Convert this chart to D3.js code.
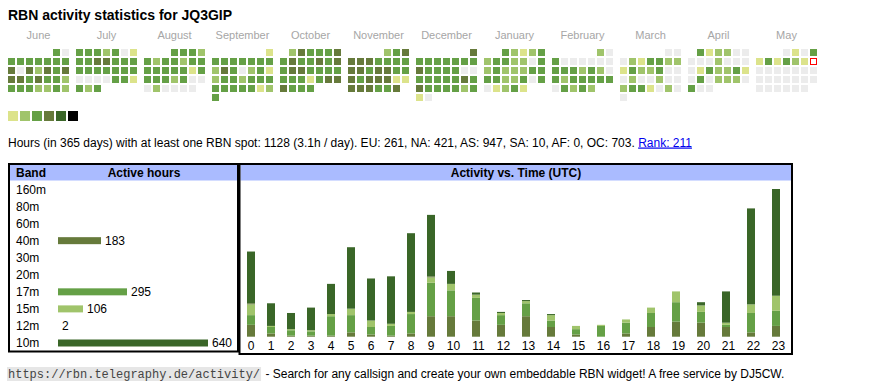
<!DOCTYPE html>
<html><head><meta charset="utf-8">
<script src="https://cdn.jsdelivr.net/npm/d3@7"></script>
<style>
body{margin:0;background:#fff}
svg{display:block}
</style>
</head><body>
<svg id="chart" width="870" height="390" font-family="'Liberation Sans',Arial,Helvetica,sans-serif"></svg>
<script>
// ---------------- DATA ----------------
const titleText = "RBN activity statistics for JQ3GIP";
const monthNames = ["June","July","August","September","October","November","December","January","February","March","April","May"];
const monthFirstDays = ["2024-06-01","2024-07-01","2024-08-01","2024-09-01","2024-10-01","2024-11-01","2024-12-01","2025-01-01","2025-02-01","2025-03-01","2025-04-01","2025-05-01"];
// activity level per day (0 = none ... 5 = highest), one string per month
const dayLevels = [
  "303333333404243444343323332232",
  "3332301334433333333330000331323",
  "3332323323333333133332300020000",
  "133333332430231233233333333123",
  "2433343433434344333333313444333",
  "234444333344344334344411444334",
  "4333333343333003333343433332310",
  "3212323322032322233332230301231",
  "2030000003332320323333303232",
  "0002133221322300020020023310200",
  "312200000200001322310302220300",
  "0103131321000000000000000000000"
];
const todayDate = "2025-05-11";
const levelColors = ["#ececec","#dce38b","#a0c46b","#65a046","#667a3b","#3a6628","#000000"];
const legendLevels = [1,2,3,4,5,6];

const summaryText = "Hours (in 365 days) with at least one RBN spot: 1128 (3.1h / day). EU: 261, NA: 421, AS: 947, SA: 10, AF: 0, OC: 703. ";
const rankText = "Rank: 211";

const bands = ["160m","80m","60m","40m","30m","20m","17m","15m","12m","10m"];
const bandHours = [0,0,0,183,0,0,295,106,2,640];
const bandColors = {"160m":"#3a6628","80m":"#3a6628","60m":"#3a6628","40m":"#667a3b","30m":"#3a6628","20m":"#3a6628","17m":"#65a046","15m":"#a0c46b","12m":"#667a3b","10m":"#3a6628"};

const hourLabels = ["0","1","2","3","4","5","6","7","8","9","10","11","12","13","14","15","16","17","18","19","20","21","22","23"];
const hours40m = [11,3,1,1,1,4,2,1,3,19,19,15,11,19,9,2,0,3,9,14,13,9,4,10];
const hours17m = [9,6,5,4,18,16,7,9,18,31,24,21,9,12,6,5,10,10,13,18,10,2,18,14];
const hours15m = [10,1,1,1,2,6,6,2,2,5,6,3,2,2,5,3,1,3,5,10,6,2,8,14];
const hours12m = [1,0,0,0,0,0,0,0,0,1,0,0,0,0,0,0,0,0,0,0,0,0,0,0];
const hours10m = [48,21,15,21,28,57,39,44,73,57,12,2,1,1,1,0,0,0,0,0,3,29,89,99];
const stackBands = ["40m","17m","15m","12m","10m"];

const footerUrl = "https://rbn.telegraphy.de/activity/";
const footerText = " - Search for any callsign and create your own embeddable RBN widget! A free service by DJ5CW.";

// ---------------- DRAW ----------------
const svg = d3.select("#chart");
svg.append("rect").attr("width",870).attr("height",390).attr("fill","#fff");

svg.append("text").attr("x",8).attr("y",20).attr("font-size",14).attr("font-weight","bold").text(titleText);

// calendar
const cell = 7, pitch = 9;
const monthX = d3.scaleBand().domain(monthNames).range([8, 8 + 12*68]);
const parse = d3.utcParse("%Y-%m-%d");
const today = parse(todayDate);
const cal = svg.append("g");
monthNames.forEach((m, mi) => {
  const first = parse(monthFirstDays[mi]);
  const offset = (first.getUTCDay() + 6) % 7;
  const x0 = monthX(m);
  cal.append("text").attr("x", x0 + (7*pitch - 2)/2).attr("y",38.5).attr("text-anchor","middle")
    .attr("font-size",11).attr("fill","#a6a6a6").text(m);
  const levels = dayLevels[mi].split("").map(Number);
  levels.forEach((lv, d) => {
    const date = d3.utcDay.offset(first, d);
    const idx = d + offset;
    const col = idx % 7, row = Math.floor(idx / 7);
    const isToday = +date === +today;
    cal.append("rect")
      .attr("x", x0 + col*pitch + (isToday ? 0.5 : 0))
      .attr("y", 49 + row*pitch + (isToday ? 0.5 : 0))
      .attr("width", isToday ? cell-1 : cell).attr("height", isToday ? cell-1 : cell)
      .attr("fill", isToday ? "#fff" : levelColors[lv])
      .attr("stroke", isToday ? "#ff0000" : "none").attr("stroke-width", 1);
  });
});

// legend
const legX = d3.scalePoint().domain(legendLevels).range([8, 68]);
svg.append("g").selectAll("rect").data(legendLevels).join("rect")
  .attr("x", d => legX(d)).attr("y", 111).attr("width",10).attr("height",10)
  .attr("fill", d => levelColors[d]);

// summary line
const sum = svg.append("text").attr("x",8).attr("y",146.5).attr("font-size",12);
sum.append("tspan").text(summaryText);
sum.append("tspan").attr("fill","#0000ee").attr("text-decoration","underline").text(rankText);

// boxes
const headerFill = "#aabbff";
svg.append("rect").attr("x",10).attr("y",165).attr("width",227).attr("height",15.5).attr("fill",headerFill);
svg.append("rect").attr("x",240.5).attr("y",165).attr("width",550.5).attr("height",15.5).attr("fill",headerFill);
svg.append("rect").attr("x",9).attr("y",164).attr("width",229).attr("height",187.5).attr("fill","none").attr("stroke","#000").attr("stroke-width",2);
svg.append("rect").attr("x",239.5).attr("y",164).attr("width",552.5).attr("height",190).attr("fill","none").attr("stroke","#000").attr("stroke-width",2);

svg.append("text").attr("x",16).attr("y",176.7).attr("font-size",12).attr("font-weight","bold").text("Band");
svg.append("text").attr("x",144).attr("y",176.7).attr("font-size",12).attr("font-weight","bold").attr("text-anchor","middle").text("Active hours");
svg.append("text").attr("x",516).attr("y",176.7).attr("font-size",12).attr("font-weight","bold").attr("text-anchor","middle").text("Activity vs. Time (UTC)");

// band table
const rowY = d3.scalePoint().domain(bands).range([189.5, 343]);
const barW = d3.scaleLinear().domain([0, d3.max(bandHours)]).range([0, 150]);
const bt = svg.append("g");
bands.forEach((b, i) => {
  const y = rowY(b);
  bt.append("text").attr("x",16).attr("y",y+4.3).attr("font-size",12).text(b);
  if (bandHours[i] > 0) {
    const w = Math.round(barW(bandHours[i]));
    bt.append("rect").attr("x",58).attr("y",y-3.5).attr("width",w).attr("height",7).attr("fill",bandColors[b]);
    bt.append("text").attr("x",58 + w + 4).attr("y",y+4.3).attr("font-size",12).text(bandHours[i]);
  }
});

// activity vs time
const series = {"40m":hours40m,"17m":hours17m,"15m":hours15m,"12m":hours12m,"10m":hours10m};
const table = hourLabels.map((h, i) => {
  const o = {hour: h};
  stackBands.forEach(b => o[b] = series[b][i]);
  return o;
});
const stacked = d3.stack().keys(stackBands)(table);
const colW = hourLabels.map(h => h.length === 1 ? 20 : 25);
const colStart = hourLabels.map((h, i) => 241 + d3.sum(colW.slice(0, i)));
const xCol = d3.scaleOrdinal().domain(hourLabels).range(colStart);
const maxTotal = d3.max(table, d => d3.sum(stackBands, b => d[b]));
const y = d3.scaleLinear().domain([0, maxTotal]).range([336.7, 189]);

const ag = svg.append("g");
ag.selectAll("g").data(stacked).join("g").attr("fill", s => bandColors[s.key])
  .selectAll("rect").data(s => s).join("rect")
  .attr("x", d => xCol(d.data.hour) + 6)
  .attr("width", 8)
  .attr("y", d => y(d[1]))
  .attr("height", d => y(d[0]) - y(d[1]));

ag.selectAll("text.hl").data(hourLabels).join("text").attr("class","hl")
  .attr("x", (h, i) => xCol(h) + colW[i]/2).attr("y",349.8)
  .attr("text-anchor","middle").attr("font-size",12).text(h => h);

// footer
const ft = svg.append("g");
const urlT = ft.append("text").attr("x",8).attr("y",378).attr("font-size",12)
  .style("font-family","'Liberation Mono','DejaVu Sans Mono',monospace").attr("fill","#444").text(footerUrl);
const uw = urlT.node().getComputedTextLength();
ft.insert("rect","text").attr("x",7).attr("y",367).attr("width",uw+2).attr("height",14).attr("fill","#e6e6e6");
ft.append("text").attr("x",8 + uw + 2).attr("y",378).attr("font-size",12).style("white-space","pre").text(footerText);
</script>
</body></html>
